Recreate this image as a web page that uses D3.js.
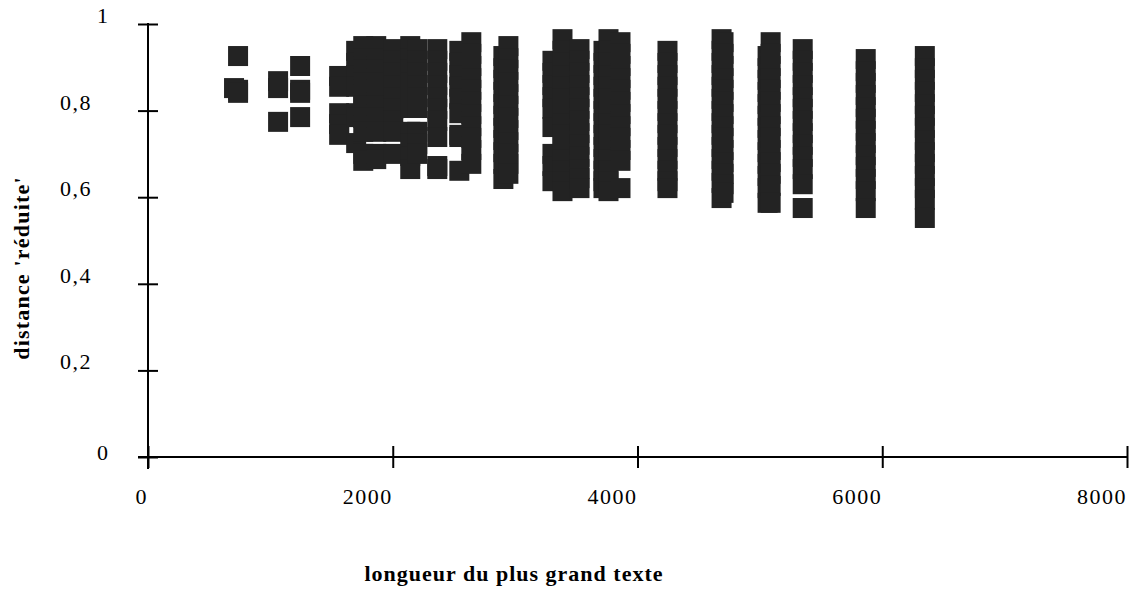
<!DOCTYPE html>
<html>
<head>
<meta charset="utf-8">
<script src="https://cdn.jsdelivr.net/npm/d3@7"></script>
<style>
  html, body { margin: 0; padding: 0; background: #fff; }
  svg { display: block; }
  text { font-family: "Liberation Serif", "Times New Roman", serif; fill: #000; }
</style>
</head>
<body>
<svg id="chart" width="1139" height="589"></svg>
<script>
// ---- data ----
const xTicks = [0, 2000, 4000, 6000, 8000];
const xTickLabels = ["0", "2000", "4000", "6000", "8000"];
const yTicks = [0, 0.2, 0.4, 0.6, 0.8, 1];
const yTickLabels = ["0", "0,2", "0,4", "0,6", "0,8", "1"];
const xTitle = "longueur du plus grand texte";
const yTitle = "distance 'réduite'";

// length of the longer text (one entry per column of points)
const lengths = [703, 736, 1063, 1243, 1562, 1701, 1759, 1865, 2004, 2143, 2200, 2364,
                 2544, 2642, 2904, 2945, 3305, 3387, 3526, 3722, 3763, 3861, 4245,
                 4687, 4703, 5063, 5088, 5350, 5865, 6348];
// reduced distances observed for each length
const distances = [
  [0.852],
  [0.926, 0.848, 0.841],
  [0.868, 0.852, 0.774],
  [0.903, 0.848, 0.841, 0.785],
  [0.880, 0.855, 0.794, 0.769, 0.744],
  [0.938, 0.910, 0.882, 0.855, 0.794, 0.785, 0.725],
  [0.949, 0.921, 0.894, 0.866, 0.838, 0.811, 0.783, 0.751, 0.700, 0.684],
  [0.949, 0.921, 0.894, 0.866, 0.838, 0.811, 0.783, 0.751, 0.700, 0.688],
  [0.942, 0.915, 0.887, 0.859, 0.831, 0.804, 0.776, 0.751, 0.700],
  [0.949, 0.921, 0.894, 0.866, 0.838, 0.806, 0.751, 0.723, 0.695, 0.665],
  [0.942, 0.915, 0.887, 0.859, 0.831, 0.806, 0.751, 0.723, 0.700],
  [0.942, 0.915, 0.887, 0.859, 0.831, 0.804, 0.776, 0.739, 0.672, 0.665],
  [0.938, 0.910, 0.882, 0.855, 0.827, 0.794, 0.744, 0.739, 0.661],
  [0.958, 0.931, 0.903, 0.875, 0.848, 0.820, 0.792, 0.764, 0.737, 0.709, 0.677],
  [0.926, 0.898, 0.871, 0.843, 0.815, 0.788, 0.760, 0.732, 0.704, 0.677, 0.642],
  [0.949, 0.921, 0.894, 0.866, 0.838, 0.811, 0.783, 0.755, 0.727, 0.700, 0.677, 0.654],
  [0.915, 0.887, 0.859, 0.831, 0.804, 0.762, 0.700, 0.672, 0.637],
  [0.965, 0.938, 0.910, 0.882, 0.855, 0.827, 0.799, 0.771, 0.744, 0.716, 0.688, 0.661, 0.637, 0.614],
  [0.942, 0.915, 0.887, 0.859, 0.831, 0.804, 0.776, 0.748, 0.721, 0.693, 0.665, 0.644, 0.621],
  [0.938, 0.910, 0.882, 0.855, 0.827, 0.799, 0.771, 0.744, 0.716, 0.688, 0.661, 0.637, 0.621],
  [0.965, 0.938, 0.910, 0.882, 0.855, 0.827, 0.799, 0.771, 0.744, 0.716, 0.688, 0.661, 0.637, 0.614],
  [0.958, 0.931, 0.903, 0.875, 0.848, 0.820, 0.792, 0.764, 0.737, 0.709, 0.684, 0.621],
  [0.938, 0.910, 0.882, 0.855, 0.827, 0.799, 0.771, 0.744, 0.716, 0.688, 0.661, 0.637, 0.621],
  [0.965, 0.938, 0.910, 0.882, 0.855, 0.827, 0.799, 0.771, 0.744, 0.716, 0.688, 0.661, 0.633, 0.598],
  [0.958, 0.931, 0.903, 0.875, 0.848, 0.820, 0.792, 0.764, 0.737, 0.709, 0.681, 0.654, 0.630, 0.610],
  [0.926, 0.898, 0.871, 0.843, 0.815, 0.788, 0.760, 0.732, 0.704, 0.677, 0.649, 0.621, 0.587],
  [0.958, 0.931, 0.903, 0.875, 0.848, 0.820, 0.792, 0.764, 0.737, 0.709, 0.681, 0.654, 0.626, 0.587],
  [0.942, 0.915, 0.887, 0.859, 0.831, 0.804, 0.776, 0.748, 0.721, 0.693, 0.665, 0.630, 0.575],
  [0.919, 0.891, 0.864, 0.836, 0.808, 0.781, 0.753, 0.725, 0.697, 0.670, 0.642, 0.614, 0.575],
  [0.926, 0.898, 0.871, 0.843, 0.815, 0.788, 0.760, 0.732, 0.704, 0.677, 0.649, 0.621, 0.594, 0.552]
];

// ---- drawing ----
const svg = d3.select("#chart");
const x = d3.scaleLinear().domain([0, 8000]).range([148, 1127]);
const y = d3.scaleLinear().domain([0, 1]).range([457, 24]);

const points = [];
lengths.forEach((len, i) => distances[i].forEach(d => points.push({len, d})));

const markerSize = 20;
svg.append("g").selectAll("rect")
  .data(points)
  .join("rect")
  .attr("x", p => x(p.len) - markerSize / 2)
  .attr("y", p => y(p.d) - markerSize / 2)
  .attr("width", markerSize)
  .attr("height", markerSize)
  .attr("fill", "#232323");

// y axis (crossing ticks)
const yAxis = svg.append("g")
  .attr("transform", `translate(${x(0)},0)`)
  .call(d3.axisLeft(y).tickValues(yTicks).tickSize(10).tickFormat(""));
yAxis.select(".domain").remove();
yAxis.selectAll(".tick line").attr("x1", -10).attr("x2", 10)
  .attr("stroke", "#000").attr("stroke-width", 2);
svg.append("line")
  .attr("x1", x(0)).attr("x2", x(0))
  .attr("y1", y(1) - 1).attr("y2", y(0) + 12)
  .attr("stroke", "#000").attr("stroke-width", 2);

// x axis (crossing ticks)
const xAxis = svg.append("g")
  .attr("transform", `translate(0,${y(0)})`)
  .call(d3.axisBottom(x).tickValues(xTicks).tickSize(10).tickFormat(""));
xAxis.select(".domain").remove();
xAxis.selectAll(".tick line").attr("y1", -11).attr("y2", 11)
  .attr("stroke", "#000").attr("stroke-width", 2);
svg.append("line")
  .attr("x1", x(0) - 10).attr("x2", x(8000) + 1)
  .attr("y1", y(0)).attr("y2", y(0))
  .attr("stroke", "#000").attr("stroke-width", 2);

// tick labels
svg.append("g").selectAll("text")
  .data(xTicks)
  .join("text")
  .attr("x", d => x(d))
  .attr("y", y(0) + 47)
  .attr("text-anchor", "end")
  .style("font-size", "22px")
  .style("letter-spacing", "1.5px")
  .text((d, i) => xTickLabels[i]);

svg.append("g").selectAll("text")
  .data(yTicks)
  .join("text")
  .attr("x", (d, i) => yTickLabels[i].length === 1 ? 97 : 92)
  .attr("y", (d, i) => y(d) + (d === 1 ? -1 : d === 0 ? 3 : -1))
  .attr("text-anchor", (d, i) => yTickLabels[i].length === 1 ? "start" : "end")
  .style("font-size", "22px")
  .style("letter-spacing", "1.5px")
  .text((d, i) => yTickLabels[i]);

// axis titles
svg.append("text")
  .attr("x", 514).attr("y", 581)
  .attr("text-anchor", "middle")
  .style("font-size", "22px").style("font-weight", "bold")
  .style("letter-spacing", "1px")
  .text(xTitle);

svg.append("text")
  .attr("transform", "translate(29,268) rotate(-90)")
  .attr("text-anchor", "middle")
  .style("font-size", "22px").style("font-weight", "bold")
  .style("letter-spacing", "1.2px")
  .text(yTitle);
</script>
</body>
</html>
